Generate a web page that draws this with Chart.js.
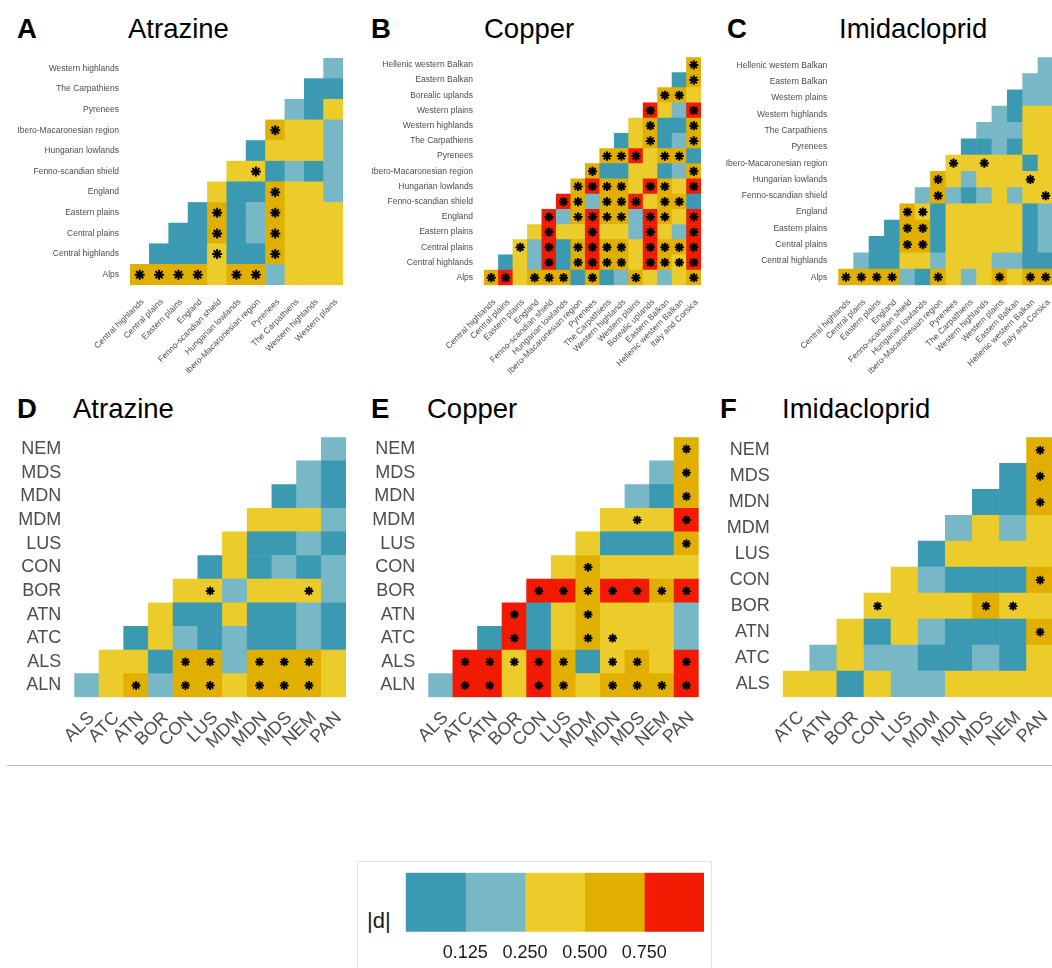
<!DOCTYPE html>
<html><head><meta charset="utf-8">
<script src="https://cdn.jsdelivr.net/npm/chart.js@4/dist/chart.umd.min.js"></script>
<style>
html,body{margin:0;padding:0;width:1052px;height:968px;overflow:hidden;background:#fff;}
body{position:relative;font-family:"Liberation Sans",Arial,Helvetica,sans-serif;}
canvas{position:absolute;}
.tag,.ttl{position:absolute;font-size:27.5px;line-height:1;color:#000;white-space:nowrap;}
.tag{font-weight:bold;}
#sep{position:absolute;left:7px;top:764.5px;width:1045px;height:1px;background:#bdbdbd;}
#legbox{position:absolute;left:357px;top:861px;width:355px;height:120px;border:1px solid #e3e3e3;box-sizing:border-box;}
#dlab{position:absolute;left:367px;top:910px;font-size:22px;line-height:1;color:#1a1a1a;}
</style></head>
<body>
<div class="tag" style="left:17px;top:15px">A</div><div class="ttl" style="left:128px;top:15px">Atrazine</div>
<div class="tag" style="left:371px;top:15px">B</div><div class="ttl" style="left:484px;top:15px">Copper</div>
<div class="tag" style="left:727px;top:15px">C</div><div class="ttl" style="left:839px;top:15px">Imidacloprid</div>
<div class="tag" style="left:17px;top:395px">D</div><div class="ttl" style="left:73px;top:395px">Atrazine</div>
<div class="tag" style="left:371px;top:395px">E</div><div class="ttl" style="left:427px;top:395px">Copper</div>
<div class="tag" style="left:720px;top:395px">F</div><div class="ttl" style="left:782px;top:395px">Imidacloprid</div>
<canvas id="cA" width="350" height="330" style="left:0px;top:50px"></canvas>
<canvas id="cB" width="350" height="330" style="left:360px;top:50px"></canvas>
<canvas id="cC" width="340" height="330" style="left:720px;top:50px"></canvas>
<canvas id="cD" width="355" height="330" style="left:0px;top:428px"></canvas>
<canvas id="cE" width="350" height="330" style="left:355px;top:428px"></canvas>
<canvas id="cF" width="355" height="330" style="left:705px;top:428px"></canvas>
<div id="sep"></div>
<div id="legbox"></div>
<div id="dlab">|d|</div>
<canvas id="cL" width="310" height="100" style="left:400px;top:865px"></canvas>
<script>
// ---------- colour bins of |d| ----------
const PALETTE = ['#3B9AB2','#78B7C5','#EBCC2A','#E1AF00','#F21A00'];
const legendTicks = ['0.125','0.250','0.500','0.750'];

// ---------- A: Atrazine, regions ----------
const atrazineRegionRows = ['Alps','Central highlands','Central plains','Eastern plains','England','Fenno-scandian shield','Hungarian lowlands','Ibero-Macaronesian region','Pyrenees','The Carpathiens','Western highlands'];
const atrazineRegionCols = ['Central highlands','Central plains','Eastern plains','England','Fenno-scandian shield','Hungarian lowlands','Ibero-Macaronesian region','Pyrenees','The Carpathiens','Western highlands','Western plains'];
const atrazineRegionLevels = [
 [4,4,4,4,3,4,4,2,3,3,3],
 [1,1,1,3,1,1,4,3,3,3],
 [1,1,4,1,2,4,3,3,3],
 [1,4,1,2,4,3,3,3],
 [3,1,1,4,3,3,2],
 [3,3,1,2,1,2],
 [1,3,3,3,2],
 [4,3,3,2],
 [2,1,3],
 [1,1],
 [2]
];
const atrazineRegionSig = [
 [1,1,1,1,0,1,1,0,0,0,0],
 [0,0,0,1,0,0,1,0,0,0],
 [0,0,1,0,0,1,0,0,0],
 [0,1,0,0,1,0,0,0],
 [0,0,0,1,0,0,0],
 [0,1,0,0,0,0],
 [0,0,0,0,0],
 [1,0,0,0],
 [0,0,0],
 [0,0],
 [0]
];

// ---------- B: Copper, regions ----------
const copperRegionRows = ['Alps','Central highlands','Central plains','Eastern plains','England','Fenno-scandian shield','Hungarian lowlands','Ibero-Macaronesian region','Pyrenees','The Carpathiens','Western highlands','Western plains','Borealic uplands','Eastern Balkan','Hellenic western Balkan'];
const copperRegionCols = ['Central highlands','Central plains','Eastern plains','England','Fenno-scandian shield','Hungarian lowlands','Ibero-Macaronesian region','Pyrenees','The Carpathiens','Western highlands','Western plains','Borealic uplands','Eastern Balkan','Hellenic western Balkan','Italy and Corsica'];
const copperRegionLevels = [
 [4,5,3,4,4,4,1,4,1,2,4,3,2,3,4],
 [1,3,2,5,1,4,5,4,4,3,5,4,3,5],
 [3,2,5,1,4,5,4,4,3,5,4,4,5],
 [3,5,3,3,5,3,3,2,5,3,2,5],
 [5,2,4,5,4,4,2,5,4,3,5],
 [5,4,2,4,4,5,3,4,4,1],
 [4,5,4,4,3,5,4,3,5],
 [4,1,1,3,3,1,2,4],
 [4,4,5,3,4,4,1],
 [1,3,4,1,2,4],
 [3,4,1,1,4],
 [5,3,2,5],
 [4,4,3],
 [1,4],
 [4]
];
const copperRegionSig = [
 [1,1,0,1,1,1,0,1,0,0,1,0,0,0,1],
 [0,0,0,1,0,1,1,1,1,0,1,1,1,1],
 [1,0,1,0,1,1,1,1,0,1,1,1,1],
 [0,1,0,0,1,0,0,0,1,0,0,1],
 [1,0,1,1,1,1,0,1,1,0,1],
 [1,1,0,1,1,1,0,1,1,0],
 [1,1,1,1,0,1,1,0,1],
 [1,0,0,0,0,0,0,1],
 [1,1,1,0,1,1,0],
 [0,0,1,0,0,1],
 [0,1,0,0,1],
 [1,0,0,1],
 [1,1,0],
 [0,1],
 [1]
];

// ---------- C: Imidacloprid, regions ----------
const imidaRegionRows = ['Alps','Central highlands','Central plains','Eastern plains','England','Fenno-scandian shield','Hungarian lowlands','Ibero-Macaronesian region','Pyrenees','The Carpathiens','Western highlands','Western plains','Eastern Balkan','Hellenic western Balkan'];
const imidaRegionCols = ['Central highlands','Central plains','Eastern plains','England','Fenno-scandian shield','Hungarian lowlands','Ibero-Macaronesian region','Pyrenees','The Carpathiens','Western highlands','Western plains','Eastern Balkan','Hellenic western Balkan','Italy and Corsica'];
const imidaRegionLevels = [
 [4,4,4,4,2,1,4,3,2,3,4,3,4,4],
 [2,1,1,3,3,2,3,3,3,2,2,1,1],
 [1,1,4,4,1,3,3,3,3,3,1,2],
 [1,4,4,1,3,3,3,3,3,1,2],
 [4,3,1,3,3,3,3,3,1,2],
 [2,4,2,1,2,3,2,3,3],
 [4,3,2,3,3,3,3,3],
 [3,3,3,3,3,1,3],
 [1,1,2,1,3,3],
 [2,2,2,3,3],
 [2,1,3,3],
 [1,2,2],
 [2,2],
 [2]
];
const imidaRegionSig = [
 [1,1,1,1,0,0,1,0,0,0,1,0,1,1],
 [0,0,0,0,0,0,0,0,0,0,0,0,0],
 [0,0,1,1,0,0,0,0,0,0,0,0],
 [0,1,1,0,0,0,0,0,0,0,0],
 [1,1,0,0,0,0,0,0,0,0],
 [0,1,0,0,0,0,0,0,1],
 [1,0,0,0,0,0,1,0],
 [1,0,1,0,0,0,0],
 [0,0,0,0,0,0],
 [0,0,0,0,0],
 [0,0,0,0],
 [0,0,0],
 [0,0],
 [0]
];

// ---------- D: Atrazine, zones ----------
const atrazineZoneRows = ['ALN','ALS','ATC','ATN','BOR','CON','LUS','MDM','MDN','MDS','NEM'];
const atrazineZoneCols = ['ALS','ATC','ATN','BOR','CON','LUS','MDM','MDN','MDS','NEM','PAN'];
const atrazineZoneLevels = [
 [2,3,4,2,4,4,3,4,4,4,3],
 [3,3,1,4,4,2,4,4,4,3],
 [1,3,2,1,2,1,1,2,1],
 [3,1,1,3,1,1,2,1],
 [3,3,2,3,3,3,2],
 [1,3,1,2,1,2],
 [3,1,1,2,1],
 [3,3,3,2],
 [1,2,1],
 [2,1],
 [2]
];
const atrazineZoneSig = [
 [0,0,1,0,1,1,0,1,1,1,0],
 [0,0,0,1,1,0,1,1,1,0],
 [0,0,0,0,0,0,0,0,0],
 [0,0,0,0,0,0,0,0],
 [0,1,0,0,0,1,0],
 [0,0,0,0,0,0],
 [0,0,0,0,0],
 [0,0,0,0],
 [0,0,0],
 [0,0],
 [0]
];

// ---------- E: Copper, zones ----------
const copperZoneRows = ['ALN','ALS','ATC','ATN','BOR','CON','LUS','MDM','MDN','MDS','NEM'];
const copperZoneCols = ['ALS','ATC','ATN','BOR','CON','LUS','MDM','MDN','MDS','NEM','PAN'];
const copperZoneLevels = [
 [2,5,5,3,5,4,3,4,4,4,5],
 [5,5,3,5,4,1,3,4,3,5],
 [1,5,1,3,4,3,3,3,2],
 [5,1,3,4,3,3,3,2],
 [5,5,4,5,5,4,5],
 [3,4,3,3,3,3],
 [3,1,1,1,4],
 [3,3,3,5],
 [2,1,4],
 [2,4],
 [4]
];
const copperZoneSig = [
 [0,1,1,0,1,1,0,1,1,1,1],
 [1,1,1,1,1,0,1,1,0,1],
 [0,1,0,0,1,1,0,0,0],
 [1,0,0,1,0,0,0,0],
 [1,1,1,1,1,1,1],
 [0,1,0,0,0,0],
 [0,0,0,0,1],
 [0,1,0,1],
 [0,0,1],
 [0,1],
 [1]
];

// ---------- F: Imidacloprid, zones ----------
const imidaZoneRows = ['ALS','ATC','ATN','BOR','CON','LUS','MDM','MDN','MDS','NEM'];
const imidaZoneCols = ['ATC','ATN','BOR','CON','LUS','MDM','MDN','MDS','NEM','PAN'];
const imidaZoneLevels = [
 [3,3,1,3,2,2,3,3,3,3],
 [2,3,2,2,1,1,2,1,3],
 [3,1,3,2,1,1,1,4],
 [3,3,3,3,4,3,3],
 [3,2,1,1,1,4],
 [1,3,3,3,3],
 [2,3,2,3],
 [1,1,4],
 [1,4],
 [4]
];
const imidaZoneSig = [
 [0,0,0,0,0,0,0,0,0,0],
 [0,0,0,0,0,0,0,0,0],
 [0,0,0,0,0,0,0,1],
 [1,0,0,0,1,1,0],
 [0,0,0,0,0,1],
 [0,0,0,0,0],
 [0,0,0,0],
 [0,0,1],
 [0,1],
 [1]
];

const FONT = '"Liberation Sans", Arial, Helvetica, sans-serif';

function heatmap(id, rows, cols, levels, sig, g) {
  const datasets = rows.map((rowName, r) => ({
    type: 'bar',
    data: cols.map((c, ci) => ci >= r ? [r - 0.5, r + 0.5] : null),
    backgroundColor: cols.map((c, ci) => ci >= r ? PALETTE[levels[r][ci - r] - 1] : 'rgba(0,0,0,0)'),
    borderWidth: 0,
    grouped: false,
    barPercentage: 1,
    categoryPercentage: 1,
    order: 2
  }));
  const stars = [];
  rows.forEach((rowName, r) => sig[r].forEach((s, k) => { if (s) stars.push({x: cols[r + k], y: r}); }));
  datasets.push({type: 'line', data: stars, showLine: false, pointStyle: 'star',
    pointRadius: g.star, pointBorderColor: '#000', pointBackgroundColor: '#000',
    pointBorderWidth: g.starW, order: 0});
  new Chart(document.getElementById(id), {
    type: 'bar',
    data: {labels: cols, datasets},
    options: {
      responsive: false, animation: false, devicePixelRatio: 1, events: [],
      layout: {padding: {top: g.pt, right: g.pr, bottom: 0, left: 0}},
      plugins: {legend: {display: false}, tooltip: {enabled: false}},
      scales: {
        x: {type: 'category', offset: true, grid: {display: false, drawTicks: false}, border: {display: false},
            ticks: {autoSkip: false, minRotation: 45, maxRotation: 45, padding: g.xp, labelOffset: g.lo, color: '#4d4d4d', font: {family: FONT, size: g.fs}},
            afterFit: s => { s.height = g.xh; s.paddingLeft = 0; s.paddingRight = 0; }},
        y: {type: 'linear', min: -0.5, max: rows.length - 0.5, grid: {display: false, drawTicks: false}, border: {display: false},
            afterBuildTicks: s => { s.ticks = rows.map((_, i) => ({value: i})); },
            ticks: {autoSkip: false, padding: g.yp, color: '#4d4d4d', font: {family: FONT, size: g.fs}, callback: v => rows[v]},
            afterFit: s => { s.width = g.yw; s.paddingTop = 0; s.paddingBottom = 0; }}
      }
    }
  });
}

const topG = {fs: 8.5, xp: 12, lo: 3, yp: 11, star: 4.6, starW: 2};
heatmap('cA', atrazineRegionRows, atrazineRegionCols, atrazineRegionLevels, atrazineRegionSig, Object.assign({}, topG, {pt: 8, pr: 3, xh: 95, yw: 130, star: 5}));
heatmap('cB', copperRegionRows, copperRegionCols, copperRegionLevels, copperRegionSig, Object.assign({}, topG, {pt: 7.3, pr: 9, xh: 94.7, yw: 124}));
heatmap('cC', imidaRegionRows, imidaRegionCols, imidaRegionLevels, imidaRegionSig, Object.assign({}, topG, {pt: 7.3, pr: 4.7, xh: 94.7, yw: 118.3}));
const botG = {fs: 18, xp: 10, lo: 5, yp: 13, star: 4.4, starW: 1.9, pt: 9.3, xh: 60.7};
heatmap('cD', atrazineZoneRows, atrazineZoneCols, atrazineZoneLevels, atrazineZoneSig, Object.assign({}, botG, {pr: 9, yw: 74.3}));
heatmap('cE', copperZoneRows, copperZoneCols, copperZoneLevels, copperZoneSig, Object.assign({}, botG, {pr: 5, yw: 73.3}));
heatmap('cF', imidaZoneRows, imidaZoneCols, imidaZoneLevels, imidaZoneSig, Object.assign({}, botG, {pr: 6.3, yw: 77.7, xh: 61}));

// ---------- colour legend ----------
new Chart(document.getElementById('cL'), {
  type: 'bar',
  data: {labels: [''], datasets: PALETTE.map(c => ({data: [1], backgroundColor: c, borderWidth: 0, barPercentage: 1, categoryPercentage: 1}))},
  options: {
    indexAxis: 'y', responsive: false, animation: false, devicePixelRatio: 1, events: [],
    layout: {padding: {top: 7.7, left: 5.7, right: 6, bottom: 0}},
    plugins: {legend: {display: false}, tooltip: {enabled: false}},
    scales: {
      x: {type: 'linear', stacked: true, min: 0, max: 5, grid: {display: false, drawTicks: false}, border: {display: false},
          afterBuildTicks: s => { s.ticks = legendTicks.map((_, i) => ({value: i + 1})); },
          ticks: {padding: 11, color: '#1a1a1a', font: {family: FONT, size: 18}, callback: v => legendTicks[v - 1]},
          afterFit: s => { s.height = 33.3; s.paddingLeft = 0; s.paddingRight = 0; }},
      y: {stacked: true, display: false}
    }
  }
});
</script>
</body></html>
